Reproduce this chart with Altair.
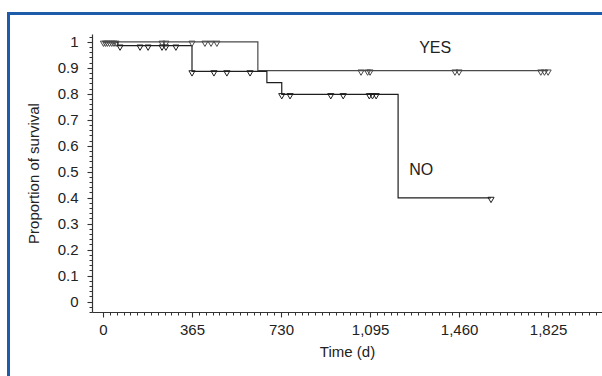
import altair as alt
import pandas as pd

# ---- data ----
yes_time = [0, 635, 1825]
yes_surv = [1.0, 0.889, 0.889]
no_time = [0, 61, 365, 672, 733, 1210, 1591]
no_surv = [1.0, 0.985, 0.886, 0.843, 0.798, 0.399, 0.399]

yes_cens_time = [2, 10, 18, 27, 36, 45, 54, 242, 258, 365, 418, 443, 467,
                 1058, 1085, 1095, 1443, 1460, 1795, 1810, 1825]
yes_cens_surv = [1.0] * 13 + [0.889] * 8
no_cens_time = [70, 152, 185, 242, 258, 299, 365, 455, 508, 603,
                733, 767, 934, 985, 1092, 1105, 1120, 1591]
no_cens_surv = [0.985] * 6 + [0.886] * 4 + [0.798] * 7 + [0.399]

label_text = ["YES", "NO"]
label_time = [1362, 1305]
label_surv = [0.975, 0.505]

x_major = [0, 365, 730, 1095, 1460, 1825]
x_minor = [round(k * 365 / 13, 2) for k in range(0, 73)]
y_major = [round(k * 0.1, 1) for k in range(0, 11)]
y_minor = [round(-0.04 + k * 0.02, 2) for k in range(0, 54)]

FONT = "Liberation Sans"
INK = "#222222"

lines = pd.concat([
    pd.DataFrame({"t": yes_time, "s": yes_surv, "g": "YES"}),
    pd.DataFrame({"t": no_time, "s": no_surv, "g": "NO"}),
])
cens = pd.concat([
    pd.DataFrame({"t": yes_cens_time, "s": yes_cens_surv, "g": "YES"}),
    pd.DataFrame({"t": no_cens_time, "s": no_cens_surv, "g": "NO"}),
])
labels = pd.DataFrame({"txt": label_text, "t": label_time, "s": label_surv})

xs = alt.Scale(domain=[-45, 2046], nice=False, zero=False)
ys = alt.Scale(domain=[-0.04, 1.03], nice=False, zero=False)
cs = alt.Scale(domain=["YES", "NO"], range=["#4a4a4a", "#1e1e1e"])

major_x = alt.Axis(values=x_major, format=",d", tickSize=5, orient="bottom",
                   labelFontSize=15, labelFont=FONT, labelColor=INK,
                   title="Time (d)", titleFont=FONT, titleFontSize=15,
                   titleFontWeight="normal", titleColor=INK, titlePadding=7,
                   labelPadding=5, domainColor="#333", tickColor="#333",
                   domainWidth=1.2, tickWidth=1.1, grid=False, labelFlush=False)
major_y = alt.Axis(values=y_major, format="~g", tickSize=5, orient="left",
                   labelFontSize=15, labelFont=FONT, labelColor=INK,
                   title="Proportion of survival", titleFont=FONT,
                   titleFontSize=15, titleFontWeight="normal", titleColor=INK,
                   titlePadding=16, labelPadding=9, domainColor="#333",
                   tickColor="#333", domainWidth=1.2, tickWidth=1.1, grid=False)
minor_x = alt.Axis(values=x_minor, labels=False, title=None, tickSize=3,
                   orient="bottom", domain=False, tickColor="#333", grid=False)
minor_y = alt.Axis(values=y_minor, labels=False, title=None, tickSize=3,
                   orient="left", domain=False, tickColor="#333", grid=False)

line_layer = alt.Chart(lines).mark_line(interpolate="step-after", strokeWidth=1.2).encode(
    x=alt.X("t:Q", scale=xs, axis=major_x),
    y=alt.Y("s:Q", scale=ys, axis=major_y),
    color=alt.Color("g:N", scale=cs, legend=None),
)

cens_layer = alt.Chart(cens).mark_point(shape="triangle-down", filled=False, size=38,
                                         strokeWidth=1.0, yOffset=2, opacity=1).encode(
    x=alt.X("t:Q", scale=xs, axis=minor_x),
    y=alt.Y("s:Q", scale=ys, axis=minor_y),
    color=alt.Color("g:N", scale=cs, legend=None),
)

text_layer = alt.Chart(labels).mark_text(font=FONT, fontSize=16, color=INK).encode(
    x=alt.X("t:Q", scale=xs, axis=None),
    y=alt.Y("s:Q", scale=ys, axis=None),
    text="txt:N",
)

frame_src = pd.DataFrame({"k": [0]})
frame_v = alt.Chart(frame_src).mark_rule(color="#1c5ca8", strokeWidth=3).encode(
    x=alt.value(-83.5), y=alt.value(-22), y2=alt.value(400))
frame_h = alt.Chart(frame_src).mark_rule(color="#1c5ca8", strokeWidth=3).encode(
    x=alt.value(-85), x2=alt.value(560), y=alt.value(-20.5))

chart = alt.layer(line_layer, cens_layer, text_layer, frame_v, frame_h).resolve_axis(
    x="independent", y="independent"
).properties(
    width=510, height=278,
    autosize=alt.AutoSizeParams(type="none"),
    padding={"left": 92, "top": 34, "right": 0, "bottom": 64},
    background="white",
).configure_view(stroke=None)

chart.save("out.html", embed_options={"renderer": "svg", "actions": False})
